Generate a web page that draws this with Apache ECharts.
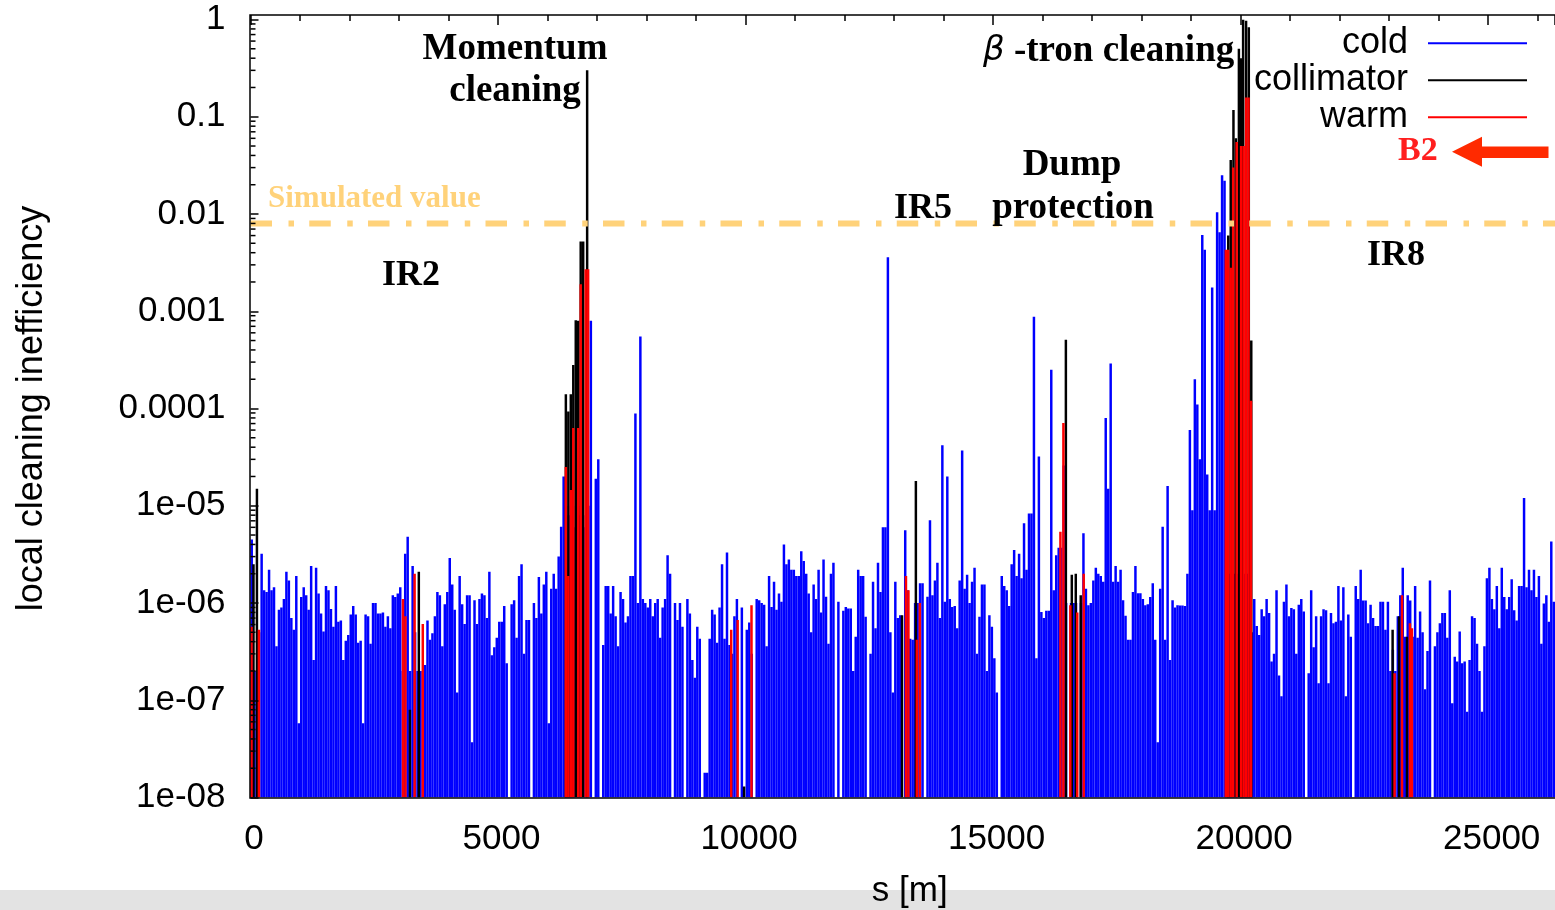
<!DOCTYPE html>
<html>
<head>
<meta charset="utf-8">
<script src="https://cdn.jsdelivr.net/npm/echarts@6/dist/echarts.min.js"></script>
<style>
html,body{margin:0;padding:0;background:#fff;}
#chart{width:1555px;height:910px;}
</style>
</head>
<body>
<div id="chart"></div>
<script>
// ---------------- data ----------------
// Legend / series names
const seriesNames = ['cold', 'collimator', 'warm'];

// Cold-element local cleaning inefficiency, one value per 50 m bin of s (bin 0 starts at s = 0)
const coldBinWidth = 50;
const coldLoss = [
  4.5e-6, 2e-7, 2e-7, 5e-7, 3.2e-6, 1.35e-6, 1.3e-6, 2.2e-6, 1.35e-6, 1.45e-6,
  3.6e-7, 8.5e-7, 9e-7, 1.1e-6, 2.1e-6, 1.7e-6, 7e-7, 5.3e-7, 1.9e-6, 5.8e-8,
  1.15e-6, 1.45e-6, 1.2e-6, 8.5e-7, 2.4e-6, 2.6e-7, 2.3e-6, 1.25e-6, 7.8e-7, 5.1e-7,
  1.5e-6, 1.35e-6, 8.7e-7, 5.7e-7, 1.5e-6, 6.4e-7, 6.6e-7, 2.6e-7, 4.1e-7, 4.7e-7,
  7.6e-7, 9.3e-7, 7.6e-7, 3.9e-7, 4.1e-7, 5.8e-8, 7.6e-7, 7.3e-7, 3.8e-7, 1e-6,
  1e-6, 7.8e-7, 7.8e-7, 8e-7, 5.7e-7, 7.3e-7, 5.5e-7, 1.2e-6, 1.15e-6, 1.25e-6,
  1.45e-6, 2e-7, 3.2e-6, 4.8e-6, 2e-7, 2.4e-6, 5e-7, 2e-7, 2e-7, 2e-7,
  2.3e-7, 6.6e-7, 4.2e-7, 4.9e-7, 7.3e-7, 1.3e-6, 1.2e-6, 3.6e-7, 9.7e-7, 1.3e-6,
  2.9e-6, 1.55e-6, 8.5e-7, 1.2e-7, 1.9e-6, 9.7e-7, 6.1e-7, 1.2e-6, 1.2e-6, 3.7e-8,
  1.07e-6, 6.1e-7, 1.1e-6, 1.25e-6, 1.2e-6, 7e-7, 2.1e-6, 2.9e-7, 3.5e-7, 4.4e-7,
  6.4e-7, 6.4e-7, 9.3e-7, 2.4e-7, 1e-8, 9.7e-7, 1.07e-6, 4.4e-7, 1.9e-6, 2.5e-6,
  3e-7, 6.7e-7, 6.7e-7, 1e-8, 1e-6, 7e-7, 1.85e-6, 7.8e-7, 1.55e-6, 2.1e-6,
  5.8e-8, 1.4e-6, 2e-6, 1.4e-6, 3e-6, 6.1e-6, 2e-5, 1e-5, 8e-6, 1e-5,
  6e-6, 1e-5, 8e-6, 1e-5, 6e-6, 8e-6, 1e-5, 8e-4, 1e-8, 1.9e-5,
  3e-5, 1e-8, 3.7e-7, 1.5e-6, 1.5e-6, 7.8e-7, 1.5e-6, 7.3e-7, 3.6e-7, 1.3e-6,
  1.1e-6, 6.3e-7, 7.3e-7, 1.9e-6, 1.9e-6, 8.9e-5, 1e-6, 5.5e-4, 1.1e-6, 1e-6,
  9e-7, 1.1e-6, 7.3e-7, 1e-6, 1.1e-6, 4.4e-7, 9e-7, 1.1e-6, 3.1e-6, 2e-6,
  1e-8, 1e-6, 6.7e-7, 1e-6, 5.7e-7, 1e-8, 1.1e-6, 7.8e-7, 2.6e-7, 1.7e-7,
  5.7e-7, 4.3e-7, 1e-8, 1.8e-8, 1.8e-8, 4.3e-7, 8.5e-7, 7.6e-7, 3.9e-7, 9e-7,
  2.5e-6, 4.3e-7, 3.3e-6, 3.7e-7, 3e-7, 7.3e-7, 1.1e-6, 1e-8, 9e-7, 1e-8,
  5.3e-7, 6.3e-7, 3e-7, 1e-8, 1.1e-6, 1.07e-6, 1e-6, 9.6e-7, 3.6e-7, 1.9e-6,
  9.1e-7, 1.65e-6, 8.5e-7, 1.25e-6, 1.03e-6, 4e-6, 2.5e-6, 2.8e-6, 2.2e-6, 2.2e-6,
  1.9e-6, 1.9e-6, 3.4e-6, 2.7e-6, 2e-6, 1.25e-6, 5e-7, 1.55e-6, 1.1e-6, 2.2e-6,
  8e-7, 2.8e-6, 1.16e-6, 3.8e-7, 2e-6, 2.6e-6, 1e-8, 1.03e-6, 1e-8, 8.3e-7,
  9.1e-7, 8.8e-7, 8.8e-7, 2e-7, 4.5e-7, 2.2e-6, 1.9e-6, 1.9e-6, 7.2e-7, 1e-8,
  3e-7, 1.65e-6, 5.5e-7, 2.6e-6, 1.3e-6, 6e-6, 6e-6, 3.6e-3, 5e-7, 1.2e-7,
  1.65e-6, 7e-7, 7.5e-7, 1e-8, 5.6e-6, 1.35e-6, 4.3e-7, 4.2e-7, 1e-6, 1e-6,
  1.6e-6, 1.6e-6, 1e-8, 1.16e-6, 7.1e-6, 1.2e-6, 1.7e-6, 2.6e-6, 7e-7, 4.2e-5,
  1.03e-6, 2e-5, 1.1e-6, 9.1e-7, 9.3e-7, 5.5e-7, 1.7e-6, 3.7e-5, 1.4e-6, 1.95e-6,
  1e-6, 1.65e-6, 2.3e-6, 3e-7, 7.2e-7, 1.55e-6, 1.55e-6, 2e-7, 7.5e-7, 5.7e-7,
  2.7e-7, 1.2e-7, 1e-8, 1.9e-6, 1.5e-6, 1.35e-6, 9.3e-7, 2.5e-6, 3.5e-6, 1.9e-6,
  3.2e-6, 1.8e-6, 6.6e-6, 2.2e-6, 8.3e-6, 8.3e-6, 8.8e-4, 2.7e-7, 3.2e-5, 8.1e-7,
  7e-7, 8.3e-7, 8.3e-7, 2.5e-4, 1.35e-6, 3.1e-6, 3.7e-6, 3.7e-6, 2.6e-5, 1e-6,
  1e-8, 1e-6, 1e-6, 1e-6, 1e-8, 1e-6, 5.2e-6, 1.4e-6, 9.5e-7, 1e-6,
  1.7e-6, 2.3e-6, 2e-6, 1.9e-6, 1.65e-6, 8e-5, 1.5e-5, 2.9e-4, 1.65e-6, 2.4e-6,
  1.65e-6, 2.2e-6, 1.07e-6, 7.4e-7, 4.2e-7, 4.2e-7, 1.3e-6, 2.4e-6, 1.26e-6, 1.26e-6,
  1.1e-6, 9.5e-7, 9.7e-7, 1.15e-6, 1.6e-6, 4.2e-7, 3.7e-8, 1.4e-6, 6.1e-6, 4.2e-7,
  1.6e-5, 2.6e-7, 1.07e-6, 9e-7, 9.5e-7, 9.4e-7, 9.4e-7, 9.3e-7, 2e-6, 6e-5,
  9e-6, 2e-4, 1.1e-4, 3e-5, 6.1e-3, 4.3e-3, 2.1e-5, 9e-6, 1.75e-3, 9e-6,
  1.04e-2, 6.5e-3, 2.5e-2, 2.2e-2, 2e-6, 2e-6, 2e-6, 2e-6, 2e-6, 2e-6,
  2e-6, 2e-6, 2e-6, 2e-6, 5e-7, 1.1e-6, 5.8e-7, 4.7e-7, 8.6e-7, 7.3e-7,
  1.1e-6, 7.9e-7, 2.5e-7, 3e-7, 1.35e-6, 1.8e-7, 1.1e-7, 1.03e-6, 1.55e-6, 7.3e-7,
  8.9e-7, 8.6e-7, 3e-7, 9.6e-7, 1.1e-6, 8.2e-7, 1e-8, 1.9e-7, 1.35e-6, 3.5e-7,
  7.3e-7, 1.5e-7, 7.3e-7, 8.6e-7, 8.4e-7, 1.5e-7, 7.9e-7, 6.2e-7, 6.4e-7, 1.5e-6,
  6.6e-7, 1.45e-6, 1.1e-7, 7.6e-7, 4.5e-7, 1e-8, 1.5e-6, 1.1e-6, 2.2e-6, 1.06e-6,
  1.06e-6, 6.2e-7, 9.6e-7, 7e-7, 5.8e-7, 5.8e-7, 1.03e-6, 1.03e-6, 5.3e-7, 1.03e-6,
  2e-7, 3.3e-7, 2e-7, 7.3e-7, 1.2e-6, 2.3e-6, 4.5e-7, 1.2e-6, 1.06e-6, 4.5e-7,
  1.5e-6, 4.4e-7, 8.2e-7, 5e-7, 1.3e-7, 3.2e-7, 1.7e-6, 1e-8, 3.6e-7, 5e-7,
  6.2e-7, 7.9e-7, 7.9e-7, 4.4e-7, 1.35e-6, 9.3e-8, 2.8e-7, 2.5e-7, 5.1e-7, 2.4e-7,
  2.5e-7, 7.6e-8, 2.6e-7, 7.3e-7, 7e-7, 3.8e-7, 2e-7, 7.6e-8, 3.6e-7, 1.8e-6,
  2.3e-6, 1.1e-6, 8.6e-7, 1.5e-6, 5.5e-7, 2.3e-6, 1.15e-6, 8.6e-7, 1.15e-6, 1.75e-6,
  8.4e-7, 6.6e-7, 1.5e-6, 1.5e-6, 1.2e-5, 1.45e-6, 2.2e-6, 1.35e-6, 2.2e-6, 1.15e-6,
  1.9e-6, 3.8e-7, 9.9e-7, 1.2e-6, 6.4e-7, 4.3e-6, 1.03e-6
];

// Collimator losses: [s (m), local cleaning inefficiency]
const collimatorLoss = [
  [60, 2.5e-6], [130, 1.5e-5],
  [3220, 8e-8], [3400, 2.1e-6],
  [6370, 1.4e-4], [6420, 9.3e-5], [6470, 1.4e-4], [6520, 2.8e-4], [6570, 8.1e-4],
  [6620, 8e-4], [6670, 5.2e-3], [6720, 5.2e-3], [6800, 0.3],
  [9970, 1.3e-8],
  [13160, 7.5e-7], [13440, 1.8e-5],
  [16470, 5.1e-4], [16590, 1.95e-6], [16670, 2e-6], [16770, 1.2e-6],
  [19750, 6e-3], [19800, 0.036], [19855, 0.117], [19905, 0.06], [19965, 0.5],
  [20010, 0.4], [20050, 1.0], [20110, 0.97], [20165, 0.83], [20215, 5e-4],
  [23070, 5.3e-7], [23200, 7.3e-7], [23360, 4.5e-7]
];

// Warm-element losses: [s (m), local cleaning inefficiency]
const warmLoss = [
  [20, 5.7e-7], [170, 5.3e-7],
  [3080, 1.1e-6], [3130, 7.3e-7], [3315, 2e-6], [3480, 6.1e-7],
  [6370, 2.5e-5], [6420, 1.9e-6], [6470, 1.45e-5], [6520, 6.3e-5], [6620, 6.3e-5],
  [6670, 1.9e-3], [6770, 2.7e-3], [6820, 2.7e-3],
  [9710, 5.3e-7], [9840, 6.7e-7], [10120, 9.5e-7],
  [13240, 1.9e-6], [13290, 1.35e-6], [13460, 4.2e-7], [13520, 1e-6],
  [16360, 5.4e-6], [16420, 7.1e-5], [16560, 9.5e-7], [16700, 8e-7], [16830, 2e-6],
  [19700, 4.3e-3], [19750, 4.3e-3], [19800, 2.8e-3], [19850, 0.03], [19920, 0.055],
  [20010, 0.05], [20060, 0.05], [20110, 0.158], [20160, 0.158], [20210, 1.2e-4],
  [23110, 1.9e-7], [23260, 1.2e-6], [23420, 6.2e-7], [23460, 5.5e-7]
];

const simulatedValue = 0.008;
const yTickLabels = ['1', '0.1', '0.01', '0.001', '0.0001', '1e-05', '1e-06', '1e-07', '1e-08'];
const xTickLabels = ['0', '5000', '10000', '15000', '20000', '25000'];
const annotations = {
  momentum: ['Momentum', 'cleaning'],
  dump: ['Dump', 'protection'],
  ir2: 'IR2', ir5: 'IR5', ir8: 'IR8',
  simulated: 'Simulated value',
  beam: 'B2'
};

// ---------------- chart ----------------
const yMin = 1e-8, yMax = 1;
const sMax = 26350;
const SANS = '"Liberation Sans", Arial, Helvetica, sans-serif';
const SERIF = '"Liberation Serif", "Times New Roman", serif';

function impulseRenderer(width) {
  return function (params, api) {
    const s = api.value(0), v = api.value(1);
    const top = api.coord([s - width / 2, v]);
    const bot = api.coord([s + width / 2, yMin]);
    return {
      type: 'rect',
      shape: { x: top[0], y: top[1], width: bot[0] - top[0], height: bot[1] - top[1] },
      style: { fill: api.visual('color') }
    };
  };
}

const coldData = coldLoss.map((v, i) => [(i + 0.5) * coldBinWidth, v]);
const simulatedLine = [[0, simulatedValue], [sMax, simulatedValue]];

// minor tick values of the log axis (2..9 x 10^k)
const minorTicks = [];
for (let e = -8; e < 0; e++) for (let m = 2; m <= 9; m++) minorTicks.push([0, m * Math.pow(10, e)]);

const chart = echarts.init(document.getElementById('chart'), null, { renderer: 'canvas' });

const serifBold = (px) => 'bold ' + px + 'px ' + SERIF;
function txt(x, y, text, font, fill, align) {
  return { type: 'text', x: x, y: y, z: 60, silent: true,
    style: { text: text, font: font, fill: fill || '#000', align: align || 'center', verticalAlign: 'middle',
             textAlign: align || 'center', textVerticalAlign: 'middle' } };
}

const option = {
  backgroundColor: '#fff',
  animation: false,
  grid: { left: 250.5, right: 0, top: 19.5, bottom: 112.5, containLabel: false, outerBoundsMode: 'none' },
  legend: {
    orient: 'vertical', right: 28, top: 25.3, align: 'right', padding: 0,
    itemWidth: 99, itemHeight: 2, itemGap: 1,
    textStyle: { fontSize: 36, fontFamily: SANS, color: '#000', padding: [0, 15, 0, 0] },
    data: seriesNames.map(n => ({ name: n, icon: 'rect' })),
    selectedMode: false
  },
  xAxis: [{
    type: 'value', min: 0, max: sMax, interval: 5000, position: 'bottom',
    axisLine: { show: false }, axisTick: { show: false }, splitLine: { show: false },
    axisLabel: { fontSize: 35, fontFamily: SANS, color: '#000', margin: 24, padding: [0, 0, 0, 7],
                 showMaxLabel: false,
                 formatter: v => xTickLabels[Math.round(v / 5000)] },
    name: 's [m]', nameLocation: 'middle', nameGap: 76,
    nameTextStyle: { fontSize: 35, fontFamily: SANS, color: '#000', padding: [0, 0, 0, 14] }
  }, {
    type: 'value', min: 0, max: sMax, interval: 5000, position: 'top', offset: 4.5,
    axisLine: { show: false }, splitLine: { show: false }, axisLabel: { show: false },
    axisTick: { show: true, inside: true, length: 10, lineStyle: { color: '#000', width: 1.5 } },
    minorTick: { show: true, splitNumber: 5, length: 6, lineStyle: { color: '#000', width: 1.5 } }
  }],
  yAxis: {
    type: 'log', logBase: 10, min: yMin, max: yMax, splitNumber: 8, z: 10,
    axisLine: { show: false }, splitLine: { show: false },
    axisTick: { show: true, inside: true, length: 8, lineStyle: { color: '#000', width: 1.5 } },
    axisLabel: { fontSize: 35, fontFamily: SANS, color: '#000', margin: 25,
                 formatter: v => yTickLabels[Math.round(-Math.log10(v))] },
    name: 'local cleaning inefficiency', nameLocation: 'middle', nameGap: 200,
    nameTextStyle: { fontSize: 36, fontFamily: SANS, color: '#000' }
  },
  series: [{
    name: 'cold', type: 'custom', xAxisIndex: 0, yAxisIndex: 0, z: 2, clip: true,
    itemStyle: { color: '#0000FF' }, renderItem: impulseRenderer(coldBinWidth),
    encode: { x: 0, y: 1 }, data: coldData
  }, {
    name: 'collimator', type: 'custom', xAxisIndex: 0, yAxisIndex: 0, z: 3, clip: true,
    itemStyle: { color: '#000000' }, renderItem: impulseRenderer(50),
    encode: { x: 0, y: 1 }, data: collimatorLoss
  }, {
    name: 'warm', type: 'custom', xAxisIndex: 0, yAxisIndex: 0, z: 4, clip: true,
    itemStyle: { color: '#FF0000' }, renderItem: impulseRenderer(50),
    encode: { x: 0, y: 1 }, data: warmLoss
  }, {
    name: 'Simulated value', type: 'line', xAxisIndex: 0, yAxisIndex: 0, z: 8, silent: true,
    showSymbol: false, symbol: 'none', data: simulatedLine,
    lineStyle: { color: '#FFD27A', width: 6, type: [21.5, 16.5, 5.5, 15.25], cap: 'butt' }
  }, {
    name: 'minorTicks', type: 'custom', xAxisIndex: 0, yAxisIndex: 0, z: 20, silent: true,
    renderItem: function (params, api) {
      const p = api.coord([api.value(0), api.value(1)]);
      return { type: 'line', shape: { x1: p[0], y1: p[1], x2: p[0] + 5, y2: p[1] },
               style: { stroke: '#000', lineWidth: 1.5 } };
    },
    encode: { x: 0, y: 1 }, data: minorTicks
  }],
  graphic: { elements: [
    { type: 'rect', z: -10, silent: true, shape: { x: 0, y: 890, width: 1555, height: 20 }, style: { fill: '#E3E3E3' } },
    { type: 'rect', z: 50, silent: true, shape: { x: 250, y: 15, width: 1400, height: 783 },
      style: { fill: 'none', stroke: '#000', lineWidth: 1.5 } },
    txt(515, 49, annotations.momentum[0], serifBold(37)),
    txt(515, 91, annotations.momentum[1], serifBold(37)),
    { type: 'text', x: 983, y: 51, z: 60, silent: true,
      style: { text: '{g|β} -tron cleaning', font: serifBold(37), fill: '#000', align: 'left', verticalAlign: 'middle',
               textAlign: 'left', textVerticalAlign: 'middle',
               rich: { g: { font: 'italic 34px "DejaVu Sans"', fill: '#000' } } } },
    txt(1072, 165, annotations.dump[0], serifBold(37)),
    txt(1073, 208, annotations.dump[1], serifBold(37)),
    txt(923, 209, annotations.ir5, serifBold(36)),
    txt(411, 276, annotations.ir2, serifBold(36)),
    txt(1396, 256, annotations.ir8, serifBold(36)),
    txt(268, 199, annotations.simulated, serifBold(31), '#FFD27A', 'left'),
    txt(1398, 151, annotations.beam, serifBold(34), '#FF1F1F', 'left'),
    { type: 'polygon', z: 60, silent: true,
      shape: { points: [[1452, 151.7], [1482, 136.7], [1482, 146.5], [1548.5, 146.5], [1548.5, 158], [1482, 158], [1482, 166.7]] },
      style: { fill: '#FF2A00' } }
  ] }
};
chart.setOption(option);
</script>
</body>
</html>
